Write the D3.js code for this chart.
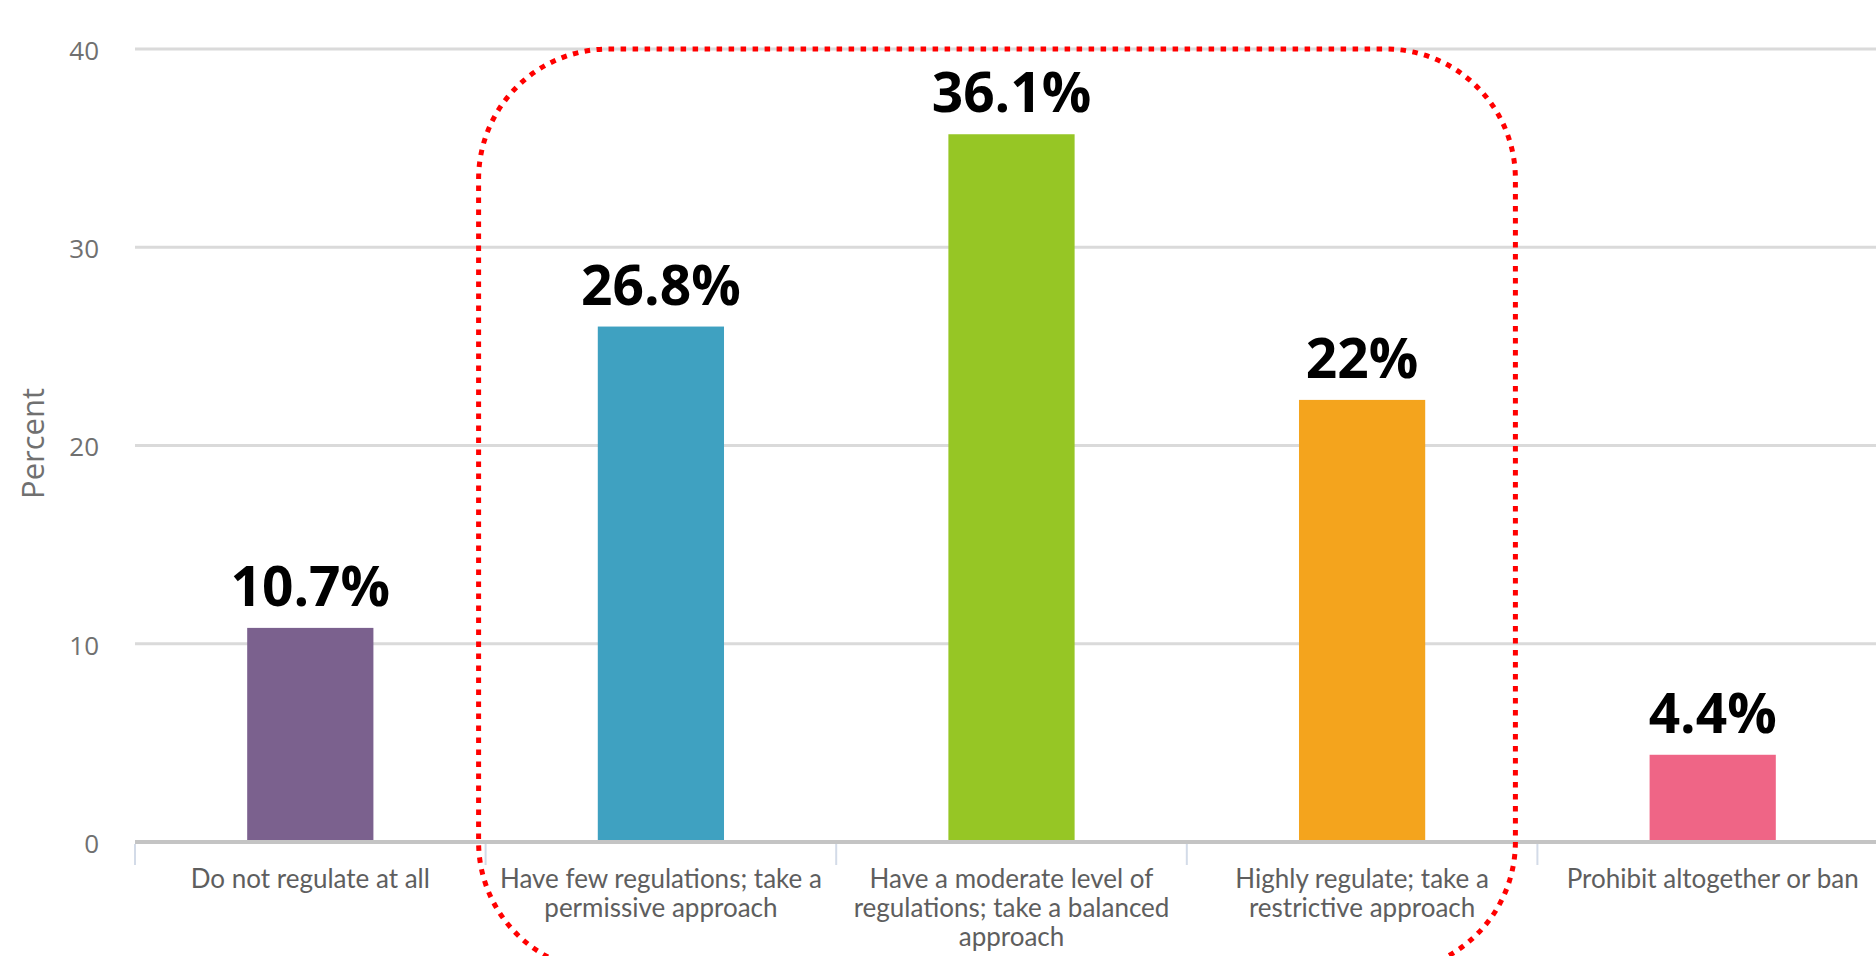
<!DOCTYPE html>
<html>
<head>
<meta charset="utf-8">
<script src="https://cdn.jsdelivr.net/npm/d3@7"></script>
<style>
  body { margin: 0; background: #fff; overflow: hidden; }
</style>
</head>
<body>
<svg id="chart"></svg>
<script>
const categories = ["regulate_none", "regulate_few", "regulate_moderate", "regulate_high", "ban"];
const categoryLines = [
    ["Do not regulate at all"],
    ["Have few regulations; take a", "permissive approach"],
    ["Have a moderate level of", "regulations; take a balanced", "approach"],
    ["Highly regulate; take a", "restrictive approach"],
    ["Prohibit altogether or ban"]
];
const percentValues = [10.8, 26.0, 35.7, 22.3, 4.4];
const valueLabels = ["10.7%", "26.8%", "36.1%", "22%", "4.4%"];
const barColors = ["#7b618e", "#3fa1c1", "#96c625", "#f4a41d", "#ef6586"];
const yTicks = [0, 10, 20, 30, 40];

const margin = {top: 49, right: -12, bottom: 114, left: 135},
    fullWidth = 1876, fullHeight = 956,
    width = fullWidth - margin.left - margin.right,
    height = fullHeight - margin.top - margin.bottom;

const svg = d3.select("#chart")
    .attr("width", fullWidth)
    .attr("height", fullHeight);

const g = svg.append("g").attr("transform", `translate(${margin.left},${margin.top})`);

const x = d3.scaleBand().domain(categories).range([0, width]).paddingInner(0.64).paddingOuter(0.32);
const xOuter = d3.scaleBand().domain(categories).range([0, width]);
const y = d3.scaleLinear().domain([0, 40]).range([height, 0]);

// grid
g.append("g")
    .selectAll("line")
    .data(yTicks.filter(d => d > 0))
    .enter().append("line")
        .attr("x1", 0).attr("x2", width)
        .attr("y1", d => y(d)).attr("y2", d => y(d))
        .attr("stroke", "#dadada")
        .attr("stroke-width", 3);

// y tick labels
g.append("g")
    .selectAll("text")
    .data(yTicks)
    .enter().append("text")
        .attr("x", -36)
        .attr("y", d => y(d))
        .attr("dy", "0.42em")
        .attr("text-anchor", "end")
        .style("font-family", "'Open Sans', sans-serif")
        .style("font-size", "26px")
        .attr("fill", "#707070")
        .text(d => d);

g.append("text")
    .attr("transform", "rotate(-90)")
    .attr("x", -(y(20) - 2))
    .attr("y", -margin.left + 33)
    .attr("dy", "0.35em")
    .attr("text-anchor", "middle")
    .style("font-family", "'Open Sans', sans-serif")
    .style("font-size", "31px")
    .attr("fill", "#707070")
    .text("Percent");

// bars
g.selectAll(".bar")
    .data(percentValues)
    .enter().append("rect")
        .attr("class", "bar")
        .attr("x", (d, i) => x(categories[i]))
        .attr("y", d => y(d))
        .attr("width", x.bandwidth())
        .attr("height", d => height - y(d))
        .attr("fill", (d, i) => barColors[i]);

// zero line + category separators
g.append("line")
    .attr("x1", 0).attr("x2", width)
    .attr("y1", height).attr("y2", height)
    .attr("stroke", "#c4c4c4")
    .attr("stroke-width", 4);

g.append("g")
    .selectAll("line")
    .data(categories)
    .enter().append("line")
        .attr("x1", d => xOuter(d)).attr("x2", d => xOuter(d))
        .attr("y1", height + 2).attr("y2", height + 23)
        .attr("stroke", "#d3dbe8")
        .attr("stroke-width", 2);

// category labels
const catText = g.append("g")
    .selectAll("text")
    .data(categories)
    .enter().append("text")
        .attr("x", d => x(d) + x.bandwidth() / 2)
        .attr("y", height + 46)
        .attr("text-anchor", "middle")
        .style("font-family", "Lato, sans-serif")
        .style("font-size", "26px")
        .attr("fill", "#5e5e5e");

catText.selectAll("tspan")
    .data((d, i) => categoryLines[i])
    .enter().append("tspan")
        .attr("x", function() { return this.parentNode.getAttribute("x"); })
        .attr("dy", (d, i) => i === 0 ? 0 : 29)
        .text(d => d);

// value labels
g.selectAll(".value")
    .data(percentValues)
    .enter().append("text")
        .attr("class", "value")
        .attr("x", (d, i) => x(categories[i]) + x.bandwidth() / 2)
        .attr("y", d => y(d) - 22)
        .attr("text-anchor", "middle")
        .style("font-family", "'Open Sans', sans-serif")
        .style("font-weight", "bold")
        .style("font-size", "55px")
        .attr("fill", "#000")
        .text((d, i) => valueLabels[i]);

// red dotted highlight round the middle three bars
const boxLeft = xOuter(categories[1]) - 7,
    boxRight = xOuter(categories[3]) + xOuter.step() - 22;
g.append("rect")
    .attr("x", boxLeft)
    .attr("y", y(40))
    .attr("width", boxRight - boxLeft)
    .attr("height", height + 130 - y(40))
    .attr("rx", 130).attr("ry", 130)
    .attr("fill", "none")
    .attr("stroke", "#ff0000")
    .attr("stroke-width", 5)
    .attr("stroke-dasharray", "5.5 6.5");
</script>
</body>
</html>
